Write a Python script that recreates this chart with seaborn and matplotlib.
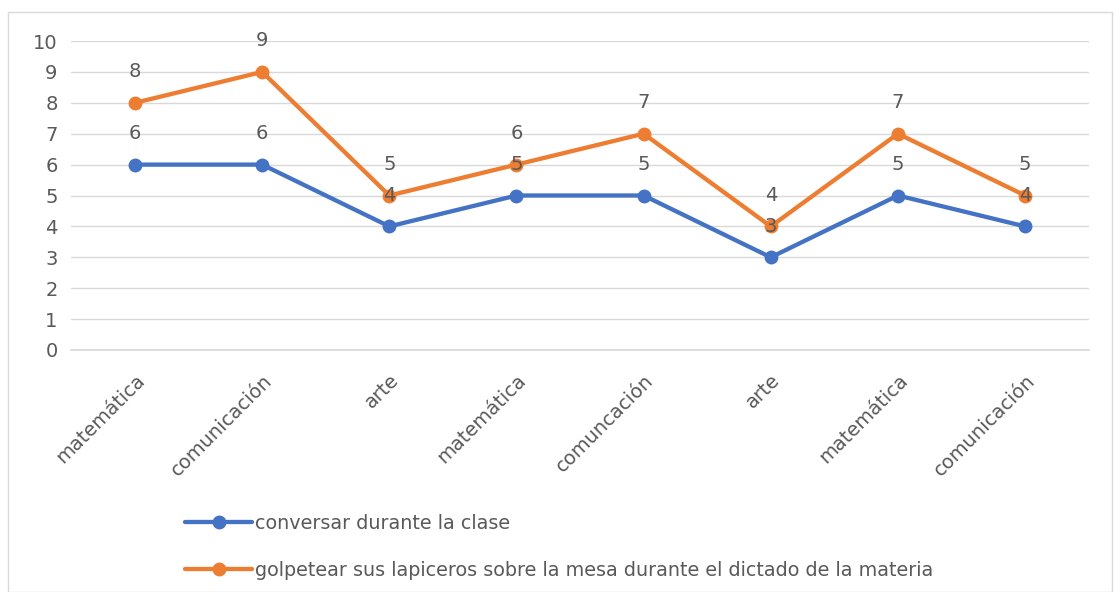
import matplotlib
matplotlib.use("Agg")
import matplotlib.pyplot as plt
import seaborn as sns
import pandas as pd
from matplotlib.lines import Line2D
from matplotlib.patches import Rectangle

categories = ["matemática", "comunicación", "arte", "matemática", "comuncación", "arte", "matemática", "comunicación"]
conversar = [6, 6, 4, 5, 5, 3, 5, 4]
golpetear = [8, 9, 5, 6, 7, 4, 7, 5]
series_names = ["conversar durante la clase",
                "golpetear sus lapiceros sobre la mesa durante el dictado de la materia"]
y_ticks = list(range(0, 11))

sns.set_theme(style="white")
plt.rcParams['font.family'] = ['DejaVu Sans']

BLUE = "#4472C4"
ORANGE = "#ED7D31"
TXT = "#595959"

fig = plt.figure(figsize=(11.16, 5.92), dpi=100)
ax = fig.add_axes([0.064, 0.4088, 0.9115, 0.5219])

idx = list(range(len(categories)))
df = pd.DataFrame({"pos": idx * 2,
                   "val": conversar + golpetear,
                   "serie": [series_names[0]] * len(idx) + [series_names[1]] * len(idx)})

sns.lineplot(data=df, x="pos", y="val", hue="serie", palette=[BLUE, ORANGE],
             marker="o", markersize=10, markeredgewidth=0, linewidth=3.1, ax=ax,
             legend=False, sort=False)

for vals in (conversar, golpetear):
    for i, v in enumerate(vals):
        ax.annotate(str(v), (i, v), xytext=(0, 22.3), textcoords="offset points",
                    ha="center", va="center", fontsize=14, color=TXT)

ax.set_xlim(-0.5, len(categories) - 0.5)
ax.set_ylim(0, 10)
ax.set_yticks(y_ticks)
ax.set_yticklabels([str(t) for t in y_ticks], fontsize=14, color=TXT)
ax.set_xticks(idx)
ax.set_xticklabels(categories, rotation=45, ha="right", rotation_mode="anchor",
                   fontsize=14, color=TXT)
ax.tick_params(axis="y", length=0, pad=10)
ax.tick_params(axis="x", length=0, pad=15)
ax.grid(axis="y", color="#d9d9d9", linewidth=1)
ax.set_axisbelow(True)
for s in ["top", "right", "left"]:
    ax.spines[s].set_visible(False)
ax.spines["bottom"].set_color("#d9d9d9")
ax.set_xlabel("")
ax.set_ylabel("")

handles = [Line2D([0], [0], color=BLUE, lw=3.1, marker="o", markersize=10, markeredgewidth=0),
           Line2D([0], [0], color=ORANGE, lw=3.1, marker="o", markersize=10, markeredgewidth=0)]
leg = fig.legend(handles, series_names, loc="upper left", bbox_to_anchor=(0.159, 0.145),
                 frameon=False, fontsize=13.8, handlelength=3.5, handletextpad=0.15,
                 labelspacing=1.45, borderaxespad=0)
for t in leg.get_texts():
    t.set_color(TXT)

fig.patches.append(Rectangle((8 / 1116, 0), 1 - 12 / 1116, 1 - 12 / 592,
                             transform=fig.transFigure, fill=False,
                             edgecolor="#d9d9d9", linewidth=1))

fig.savefig("out.png", dpi=100)
